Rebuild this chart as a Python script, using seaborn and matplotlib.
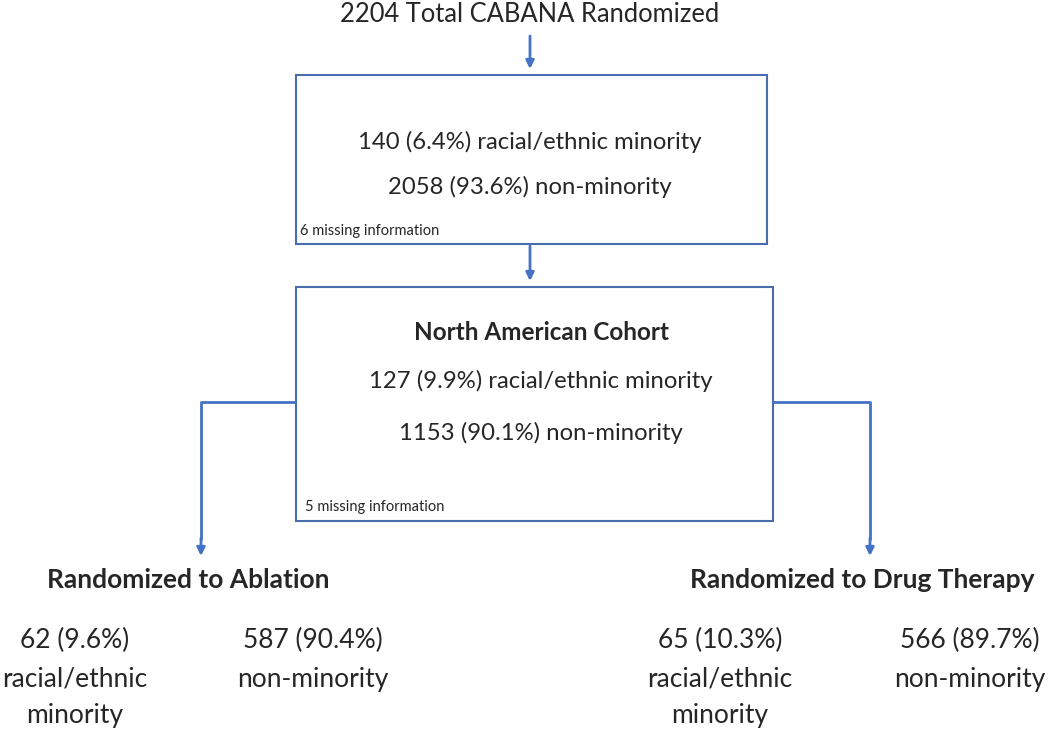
import matplotlib
matplotlib.use("Agg")
import matplotlib.pyplot as plt
import seaborn as sns
from matplotlib.patches import Rectangle

# flowchart numbers
total_randomized = 2204
overall_counts = [140, 2058]
overall_pcts = [6.4, 93.6]
overall_missing = 6
na_counts = [127, 1153]
na_pcts = [9.9, 90.1]
na_missing = 5
arms = ["Ablation", "Drug Therapy"]
arm_minority = [62, 65]
arm_minority_pct = [9.6, 10.3]
arm_nonminority = [587, 566]
arm_nonminority_pct = [90.4, 89.7]

sns.set_theme(style="white")
plt.rcParams['font.family'] = ['Lato', 'DejaVu Sans']

blue = "#4472C4"
edge = "#4A6DB0"

fig = plt.figure(figsize=(10.5, 7.3), dpi=100)
ax = fig.add_axes([0, 0, 1, 1])
ax.set_xlim(0, 1050)
ax.set_ylim(730, 0)
ax.axis("off")

def arrow(x0, y0, x1, y1):
    ax.annotate("", xy=(x1, y1), xytext=(x0, y0),
                arrowprops=dict(arrowstyle="-|>", color=blue, lw=2,
                                mutation_scale=12, shrinkA=0, shrinkB=0))

# top
ax.text(530, 14, f"{total_randomized} Total CABANA Randomized", ha="center", va="center", fontsize=18.4)
arrow(530, 36, 530, 69)

# box 1
ax.add_patch(Rectangle((296, 75), 471, 169, fill=False, ec=edge, lw=1.5))
ax.text(530, 142, f"{overall_counts[0]} ({overall_pcts[0]}%) racial/ethnic minority",
        ha="center", va="center", fontsize=17.2)
ax.text(530, 187, f"{overall_counts[1]} ({overall_pcts[1]}%) non-minority",
        ha="center", va="center", fontsize=17.2)
ax.text(300, 231, f"{overall_missing} missing information", ha="left", va="center", fontsize=10.5)
arrow(530, 246, 530, 281)

# box 2
ax.add_patch(Rectangle((296, 287), 477, 234, fill=False, ec=edge, lw=1.5))
ax.text(541, 333, "North American Cohort", ha="center", va="center", fontsize=17.5, fontweight="bold")
ax.text(541, 381, f"{na_counts[0]} ({na_pcts[0]}%) racial/ethnic minority",
        ha="center", va="center", fontsize=17.2)
ax.text(541, 433, f"{na_counts[1]} ({na_pcts[1]}%) non-minority",
        ha="center", va="center", fontsize=17.2)
ax.text(305, 507, f"{na_missing} missing information", ha="left", va="center", fontsize=10.5)

# branches
ax.plot([296, 201, 201], [402, 402, 540], color=blue, lw=2, solid_capstyle="butt")
arrow(201, 538, 201, 556)
ax.plot([773, 870, 870], [402, 402, 540], color=blue, lw=2, solid_capstyle="butt")
arrow(870, 538, 870, 556)

arm_x = [188, 862]
min_x = [[75, 313], [720, 970]]
for i, arm in enumerate(arms):
    ax.text(arm_x[i], 580, f"Randomized to {arm}", ha="center", va="center",
            fontsize=19, fontweight="bold")
    ax.text(min_x[i][0], 640, f"{arm_minority[i]} ({arm_minority_pct[i]}%)",
            ha="center", va="center", fontsize=19)
    ax.text(min_x[i][0], 679, "racial/ethnic", ha="center", va="center", fontsize=19)
    ax.text(min_x[i][0], 715, "minority", ha="center", va="center", fontsize=19)
    ax.text(min_x[i][1], 640, f"{arm_nonminority[i]} ({arm_nonminority_pct[i]}%)",
            ha="center", va="center", fontsize=19)
    ax.text(min_x[i][1], 679, "non-minority", ha="center", va="center", fontsize=19)

fig.savefig("out.png", dpi=100, facecolor="white")
